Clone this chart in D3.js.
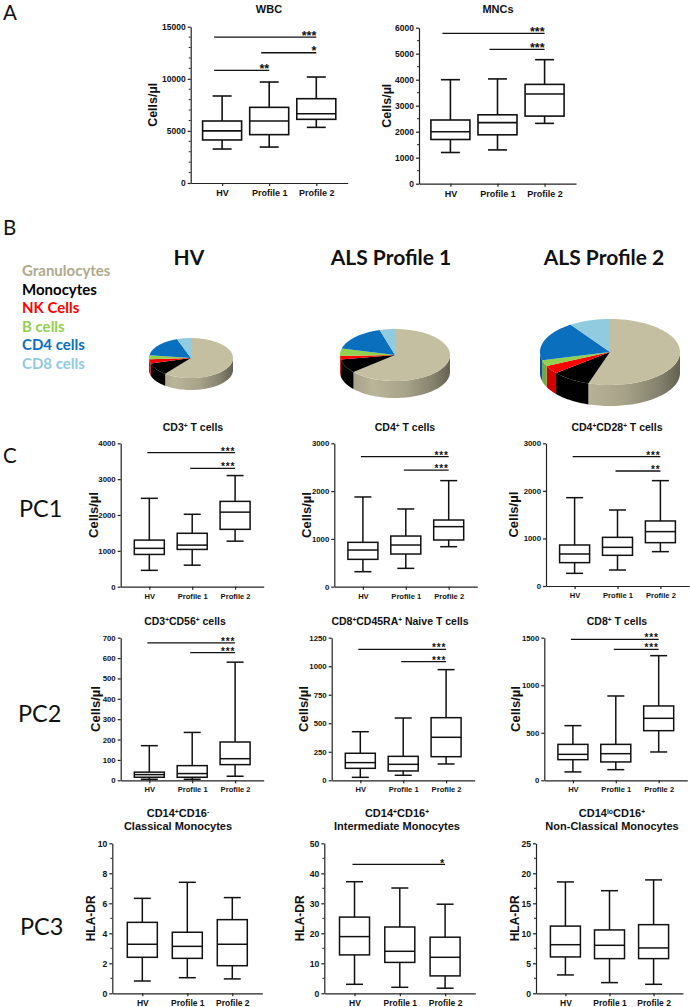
<!DOCTYPE html>
<html><head><meta charset="utf-8">
<script src="https://cdn.jsdelivr.net/npm/d3@7"></script>
<style>
html,body{margin:0;padding:0;background:#fff;}
svg{display:block;}
</style></head><body>
<svg id="fig" width="690" height="1007"></svg>
<script>
// ---------------- DATA ----------------
const categories = ["HV", "Profile 1", "Profile 2"];
// box stats per category: [min, Q1, median, Q3, max]
const wbcBoxes = [[3260,4130,5000,5950,8350],[3450,4640,5950,7260,9690],[5340,6110,6650,8090,10170]];
const wbcSig = [[0,2,14000,"***"],[1,2,12500,"*"],[0,1,10800,"**"]];
const wbcTicks = [0,5000,10000,15000];
const mncBoxes = [[1200,1700,2000,2450,4000],[1300,1880,2350,2650,4030],[2320,2600,3450,3820,4770]];
const mncSig = [[0,2,5780,"***"],[1,2,5170,"***"]];
const mncTicks = [0,1000,2000,3000,4000,5000,6000];

const cd3Boxes = [[456,900,1070,1300,2465],[600,1040,1160,1490,2020],[1270,1600,2080,2380,3100]];
const cd3Sig = [[0,2,3740,"***"],[1,2,3300,"***"]];
const cd3Ticks = [0,1000,2000,3000,4000];
const cd4Boxes = [[314,572,767,928,1877],[384,684,872,1060,1626],[837,977,1256,1395,2219]];
const cd4Sig = [[0,2,2720,"***"],[1,2,2440,"***"]];
const cd4Ticks = [0,1000,2000,3000];
const cd28Boxes = [[266,491,673,862,1857],[336,645,813,1023,1598],[722,911,1143,1367,2215]];
const cd28Sig = [[0,2,2720,"***"],[1,2,2418,"**"]];
const cd28Ticks = [0,1000,2000,3000];

const cd56Boxes = [[5,15,28,40,170],[5,15,33,72,235],[20,77,106,188,580]];
const cd56Sig = [[0,2,675,"***"],[1,2,627,"***"]];
const cd56Ticks = [0,100,200,300,400,500,600,700];
const naiveBoxes = [[26,105,155,237,426],[44,82,140,210,546],[143,207,377,549,970]];
const naiveSig = [[0,2,1148,"***"],[1,2,1040,"***"]];
const naiveTicks = [0,250,500,750,1000,1250];
const cd8Boxes = [[88,217,273,378,575],[112,193,280,378,887],[298,522,652,782,1311]];
const cd8Sig = [[0,2,1482,"***"],[1,2,1377,"***"]];
const cd8Ticks = [0,500,1000,1500];

const classicalBoxes = [[0.82,2.4,3.27,4.73,6.33],[1.04,2.33,3.13,4.07,7.4],[0.96,1.84,3.27,4.91,6.38]];
const classicalTicks = [0,2,4,6,8,10];
const interBoxes = [[3,12.8,18.9,25.4,37.2],[2,10.3,14,22.1,35.1],[1.7,5.8,12,18.7,29.7]];
const interSig = [[0,2,43,"*"]];
const interTicks = [0,10,20,30,40,50];
const nonclassBoxes = [[3.06,6.06,8.1,11.2,18.56],[1.78,5.78,8.0,10.56,17.1],[1.5,5.78,7.56,11.44,18.9]];
const nonclassTicks = [0,5,10,15,20,25];

const pieLabels = ["Granulocytes","Monocytes","NK Cells","B cells","CD4 cells","CD8 cells"];
const pieColors = ["#c4bfa1","#000000","#ff0000","#92d050","#0a6fbd","#90cbe0"];
const legendColors = ["#afaa8d","#000000","#ff0000","#92d050","#0a6fbd","#90cbe0"];
const pieTitles = ["HV","ALS Profile 1","ALS Profile 2"];
const pieHV = [60.5,10,3.6,3,17.5,5.4];
const pieP1 = [63.6,8.6,2.2,4.7,16.4,4.5];
const pieP2 = [55,9,4,3,19.5,9.5];

// ---------------- DRAWING ----------------
const svg = d3.select("#fig");
const FONT = "'Liberation Sans', Arial, sans-serif";
const LFONT = "Lato, 'Open Sans', sans-serif";

function rich(textSel, str, fs) {
  const parts = str.split("^");
  parts.forEach((p, i) => {
    if (!p.length) return;
    const sup = i % 2 === 1;
    const t = textSel.append("tspan").text(p);
    if (sup) t.attr("font-size", fs * 0.62).attr("baseline-shift", "super");
  });
}

function boxChart(cfg) {
  const g = svg.append("g");
  const y = d3.scaleLinear().domain([0, cfg.ticks[cfg.ticks.length - 1]]).range([cfg.yBot, cfg.yTop]);
  const x = d3.scalePoint().domain(categories).range([cfg.x0, cfg.x0 + cfg.L]).padding(0.667);

  if (cfg.minor) {
    const ymax = cfg.ticks[cfg.ticks.length - 1];
    const minors = d3.range(0, ymax + 1e-9, cfg.minor).filter(v => !cfg.ticks.some(t => Math.abs(t - v) < 1e-9));
    g.selectAll("line.minor").data(minors).join("line")
      .attr("x1", cfg.x0 - 2).attr("x2", cfg.x0).attr("y1", d => y(d)).attr("y2", d => y(d))
      .attr("stroke", "#222").attr("stroke-width", 1);
  }
  const ya = g.append("g").attr("transform", `translate(${cfg.x0},0)`)
    .call(d3.axisLeft(y).tickValues(cfg.ticks).tickSize(3).tickSizeOuter(0).tickPadding(2).tickFormat(d3.format("d")));
  const xa = g.append("g").attr("transform", `translate(0,${cfg.yBot})`)
    .call(d3.axisBottom(x).tickSize(3).tickSizeOuter(0).tickPadding(cfg.catPad));
  [ya, xa].forEach(a => {
    a.attr("font-family", FONT).attr("font-weight", "bold");
    a.selectAll("path,line").attr("stroke", "#222").attr("stroke-width", 1.2);
    a.selectAll("text").attr("fill", "#111");
  });
  ya.attr("font-size", cfg.tickFs);
  xa.attr("font-size", cfg.catFs);

  const bw = cfg.boxW, cw = cfg.capW;
  const bx = g.selectAll("g.box").data(cfg.boxes).join("g")
    .attr("transform", (d, i) => `translate(${x(categories[i])},0)`);
  const sty = s => s.attr("stroke", "#111").attr("stroke-width", cfg.sw).attr("fill", "none");
  sty(bx.append("line").attr("x1", 0).attr("x2", 0).attr("y1", d => y(d[4])).attr("y2", d => y(d[3])));
  sty(bx.append("line").attr("x1", 0).attr("x2", 0).attr("y1", d => y(d[1])).attr("y2", d => y(d[0])));
  sty(bx.append("line").attr("x1", -cw / 2).attr("x2", cw / 2).attr("y1", d => y(d[4])).attr("y2", d => y(d[4])));
  sty(bx.append("line").attr("x1", -cw / 2).attr("x2", cw / 2).attr("y1", d => y(d[0])).attr("y2", d => y(d[0])));
  sty(bx.append("rect").attr("x", -bw / 2).attr("width", bw).attr("y", d => y(d[3])).attr("height", d => y(d[1]) - y(d[3])));
  sty(bx.append("line").attr("x1", -bw / 2).attr("x2", bw / 2).attr("y1", d => y(d[2])).attr("y2", d => y(d[2])));

  if (cfg.sig) {
    const sg = g.selectAll("g.sig").data(cfg.sig).join("g");
    sg.append("line")
      .attr("x1", d => x(categories[d[0]]) + cfg.sigOff).attr("x2", d => x(categories[d[1]]))
      .attr("y1", d => y(d[2])).attr("y2", d => y(d[2]))
      .attr("stroke", "#111").attr("stroke-width", 1.3);
    sg.append("text").attr("x", d => x(categories[d[1]])).attr("y", d => y(d[2]) + cfg.sigFs * 0.2)
      .attr("text-anchor", "end").attr("font-family", FONT).attr("font-weight", "bold")
      .attr("letter-spacing", cfg.sigLs).attr("font-size", cfg.sigFs).attr("fill", "#111").text(d => d[3]);
  }
  cfg.title.forEach((line, i) => {
    const t = g.append("text").attr("x", cfg.titleX).attr("y", cfg.titleY + i * cfg.titleLh)
      .attr("text-anchor", "middle").attr("font-family", FONT).attr("font-weight", "bold")
      .attr("font-size", cfg.titleFs).attr("fill", "#111");
    rich(t, line, cfg.titleFs);
  });
  g.append("text").attr("transform", `translate(${cfg.ylx},${(cfg.yTop + cfg.yBot) / 2}) rotate(-90)`)
    .attr("text-anchor", "middle").attr("dy", "0.35em").attr("font-family", FONT).attr("font-weight", "bold")
    .attr("font-size", cfg.ylFs).attr("fill", "#111").text(cfg.ylabel);
}

const A = { L: 157, boxW: 39, capW: 19, sw: 1.6, tickFs: 8.5, catFs: 9, catPad: 4, sigOff: -8, sigFs: 12.5, sigLs: 0, titleFs: 11, titleLh: 12, ylFs: 12.5 };
const C1 = { L: 143, boxW: 30, capW: 17, sw: 1.5, tickFs: 7.8, catFs: 7.6, catPad: 3.5, sigOff: -2, sigFs: 10, sigLs: 0.8, titleFs: 10.5, titleLh: 12, ylFs: 13 };
const C3 = Object.assign({}, C1, { L: 150, tickFs: 8.6, catFs: 8.5, titleFs: 11, titleLh: 12.8, ylFs: 12, sigFs: 11 });

boxChart(Object.assign({}, A, { boxes: wbcBoxes, sig: wbcSig, ticks: wbcTicks, minor: 1000, x0: 190.7, yTop: 26.7, yBot: 183, titleX: 269, titleY: 12.5, title: ["WBC"], ylx: 153, ylabel: "Cells/µl" }));
boxChart(Object.assign({}, A, { boxes: mncBoxes, sig: mncSig, ticks: mncTicks, minor: 500, x0: 419, yTop: 27.7, yBot: 183.7, titleX: 498, titleY: 13, title: ["MNCs"], ylx: 387, ylabel: "Cells/µl" }));

boxChart(Object.assign({}, C1, { boxes: cd3Boxes, sig: cd3Sig, ticks: cd3Ticks, x0: 120.7, yTop: 443.3, yBot: 586.7, titleX: 193, titleY: 430.5, title: ["CD3^+^ T cells"], ylx: 93, ylabel: "Cells/µl" }));
boxChart(Object.assign({}, C1, { boxes: cd4Boxes, sig: cd4Sig, ticks: cd4Ticks, x0: 334.3, yTop: 443.3, yBot: 586.7, titleX: 405, titleY: 430.5, title: ["CD4^+^ T cells"], ylx: 306.7, ylabel: "Cells/µl" }));
boxChart(Object.assign({}, C1, { boxes: cd28Boxes, sig: cd28Sig, ticks: cd28Ticks, x0: 546, yTop: 443.3, yBot: 586, titleX: 617, titleY: 430.5, title: ["CD4^+^CD28^+^ T cells"], ylx: 513, ylabel: "Cells/µl" }));

boxChart(Object.assign({}, C1, { boxes: cd56Boxes, sig: cd56Sig, ticks: cd56Ticks, x0: 120.7, yTop: 637.7, yBot: 780.3, titleX: 185, titleY: 624.5, title: ["CD3^+^CD56^+^ cells"], ylx: 95, ylabel: "Cells/µl" }));
boxChart(Object.assign({}, C1, { boxes: naiveBoxes, sig: naiveSig, ticks: naiveTicks, x0: 331.7, yTop: 637.7, yBot: 780.3, titleX: 400, titleY: 624.5, title: ["CD8^+^CD45RA^+^ Naive T cells"], ylx: 303, ylabel: "Cells/µl" }));
boxChart(Object.assign({}, C1, { boxes: cd8Boxes, sig: cd8Sig, ticks: cd8Ticks, x0: 544.3, yTop: 637.7, yBot: 780.3, titleX: 617, titleY: 624.5, title: ["CD8^+^ T cells"], ylx: 515, ylabel: "Cells/µl" }));

boxChart(Object.assign({}, C3, { boxes: classicalBoxes, ticks: classicalTicks, minor: 1, x0: 112.3, yTop: 843.3, yBot: 993.3, titleX: 178, titleY: 817, title: ["CD14^+^CD16^-^", "Classical Monocytes"], ylx: 90.7, ylabel: "HLA-DR" }));
boxChart(Object.assign({}, C3, { boxes: interBoxes, sig: interSig, ticks: interTicks, minor: 5, x0: 324.3, L: 151, yTop: 843.3, yBot: 993.3, titleX: 397, titleY: 817, title: ["CD14^+^CD16^+^", "Intermediate Monocytes"], ylx: 300, ylabel: "HLA-DR" }));
boxChart(Object.assign({}, C3, { boxes: nonclassBoxes, ticks: nonclassTicks, minor: 2.5, x0: 536, L: 147, yTop: 843.3, yBot: 993.3, titleX: 612, titleY: 817, title: ["CD14^lo^CD16^+^", "Non-Classical Monocytes"], ylx: 515, ylabel: "HLA-DR" }));

const letters = [["A", 3, 20], ["B", 3, 235], ["C", 3, 463]];
svg.selectAll("text.panel").data(letters).join("text").attr("class", "panel")
  .attr("x", d => d[1]).attr("y", d => d[2]).attr("font-family", LFONT).attr("font-size", 20.5).attr("fill", "#111").text(d => d[0]);
const pcs = [["PC1", 19, 517], ["PC2", 18, 722], ["PC3", 20, 935]];
svg.selectAll("text.pc").data(pcs).join("text").attr("class", "pc")
  .attr("x", d => d[1]).attr("y", d => d[2]).attr("font-family", LFONT).attr("font-size", 23.5).attr("fill", "#111").text(d => d[0]);

// ---------------- PANEL B: 3D pies ----------------
const defs = svg.append("defs");
const legend = svg.append("g");
legend.selectAll("text").data(pieLabels).join("text")
  .attr("x", 22).attr("y", (d, i) => 276 + i * 18.5)
  .attr("font-family", LFONT).attr("font-weight", "bold").attr("font-size", 15)
  .attr("fill", (d, i) => legendColors[i]).text(d => d);

const pieLayouts = [
  { vals: pieHV, cx: 191, cy: 358, rx: 42, ry: 20, h: 12, tx: 189 },
  { vals: pieP1, cx: 395, cy: 355, rx: 55, ry: 26, h: 17, tx: 391 },
  { vals: pieP2, cx: 610, cy: 352, rx: 70, ry: 33, h: 21, tx: 604 }
];
pieLayouts.forEach((P, pi) => {
  svg.append("text").attr("x", P.tx).attr("y", 265).attr("text-anchor", "middle")
    .attr("font-family", LFONT).attr("font-weight", "bold").attr("font-size", 21).attr("fill", "#111")
    .text(pieTitles[pi]);
  const g = svg.append("g");
  const arcs = d3.pie().sort(null)(P.vals);
  const pt = (a, dy) => [P.cx + P.rx * Math.sin(a), P.cy - P.ry * Math.cos(a) + dy];
  const line = d3.line();
  arcs.forEach((a, i) => {
    const c = d3.color(pieColors[i]);
    const gid = `grad${pi}_${i}`;
    const gr = defs.append("linearGradient").attr("id", gid).attr("gradientUnits", "userSpaceOnUse")
      .attr("x1", P.cx - P.rx).attr("x2", P.cx + P.rx).attr("y1", 0).attr("y2", 0);
    [[0, 0.7], [0.3, 0.15], [0.6, 0.45], [0.85, 1.1], [1, 1.9]].forEach(([o, k]) =>
      gr.append("stop").attr("offset", o).attr("stop-color", c.darker(k).formatHex()));
    const s = Math.max(a.startAngle, Math.PI / 2), e = Math.min(a.endAngle, 3 * Math.PI / 2);
    if (e <= s) return;
    const n = 48, top = [], bot = [];
    for (let k = 0; k <= n; k++) { const t = s + (e - s) * k / n; top.push(pt(t, 0)); bot.push(pt(t, P.h)); }
    g.append("path").attr("d", line(top.concat(bot.reverse())) + "Z").attr("fill", `url(#${gid})`);
  });
  arcs.forEach((a, i) => {
    const n = 60, pts = [[P.cx, P.cy]];
    for (let k = 0; k <= n; k++) pts.push(pt(a.startAngle + (a.endAngle - a.startAngle) * k / n, 0));
    g.append("path").attr("d", line(pts) + "Z").attr("fill", pieColors[i]);
  });
});
</script>
</body></html>
